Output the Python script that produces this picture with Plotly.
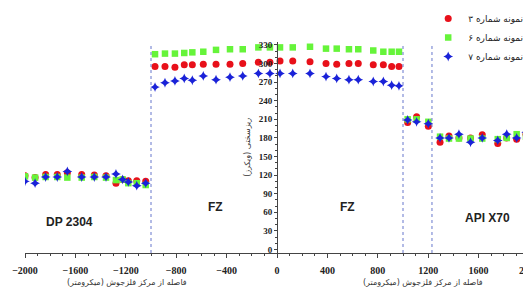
import plotly.graph_objects as go

# distance from weld-metal centre (micrometre)
x_pos = [-2000, -1920, -1836, -1744, -1664, -1550, -1450, -1357, -1278, -1225, -1180, -1113, -1042,
         -968, -889, -810, -736, -672, -585, -484, -373, -272, -148, -56,
         24, 125, 262, 389, 474, 571, 645, 764, 844, 910, 968,
         1037, 1108, 1201,
         1294, 1365, 1444, 1536, 1629, 1752, 1823, 1902, 1976]

sample3 = [119, 116, 121, 121, 124, 121, 120, 119, 107, 113, 111, 111, 110,
           295, 295, 294, 298, 298, 299, 299, 299, 300, 302, 302,
           304, 304, 303, 300, 299, 300, 300, 298, 298, 295, 295,
           205, 214, 199,
           173, 183, 180, 180, 185, 171, 180, 178, 186]

sample6 = [118, 116, 117, 117, 116, 116, 117, 116, 112, 113, 107, 107, 104,
           315, 316, 316, 317, 318, 319, 322, 323, 323, 326, 326,
           326, 326, 327, 324, 324, 323, 323, 321, 319, 319, 319,
           210, 210, 206,
           182, 179, 179, 179, 179, 178, 180, 186, 182]

sample7 = [110, 107, 117, 117, 126, 117, 117, 117, 122, 113, 109, 103, 107,
           262, 269, 272, 276, 273, 280, 274, 278, 280, 284, 284,
           284, 284, 284, 279, 276, 274, 274, 271, 271, 265, 264,
           209, 206, 203,
           180, 180, 186, 173, 180, 176, 186, 180, 189]

series_names = ["نمونه شماره ۳", "نمونه شماره ۶", "نمونه شماره ۷"]
zone_x = [-1643, -492, 556, 1667]
zone_y = [44, 68, 68, 51]
zone_labels = ["DP 2304", "FZ", "FZ", "API X70"]
boundaries = [-1000, 1000, 1230]
x_ticks = [-2000, -1600, -1200, -800, -400, 0, 400, 800, 1200, 1600, 2000]
y_ticks = list(range(0, 331, 30))
x_title = "فاصله از مرکز فلزجوش (میکرومتر)"
y_title = "ریزسختی (ویکرز)"

fig = go.Figure()
styles = [
    dict(color="#e8101a", symbol="circle", size=7),
    dict(color="#66f43a", symbol="square", size=6.5),
    dict(color="#1a22d8", symbol="star-diamond", size=7),
]
for name, ys, st in zip(series_names, [sample3, sample6, sample7], styles):
    fig.add_trace(go.Scatter(x=x_pos, y=ys, mode="markers", name=name,
                             marker=dict(color=st["color"], symbol=st["symbol"],
                                         size=st["size"], line=dict(width=0))))

for b in boundaries:
    fig.add_shape(type="line", xref="x", yref="y", x0=b, x1=b, y0=-5.6, y1=333,
                  line=dict(color="#6677cc", width=1, dash="dot"))

for zx, zy, zl in zip(zone_x, zone_y, zone_labels):
    fig.add_annotation(x=zx, y=zy, text="<b>" + zl + "</b>", showarrow=False,
                       font=dict(family="Liberation Sans", size=12, color="#222"))

for cx in [-1190, 1160]:
    fig.add_annotation(x=cx, y=-0.17, xref="x", yref="paper", text=x_title,
                       showarrow=False, font=dict(family="DejaVu Sans", size=8, color="#333"))

fig.add_annotation(x=-230, y=164, xref="x", yref="y", text=y_title, textangle=-90,
                   showarrow=False, font=dict(family="DejaVu Sans", size=8, color="#333"))

# the page body has an 8px default margin, so the figure is sized to fit the window
fig.update_layout(
    width=523, height=294,
    margin=dict(l=17, r=2, t=34, b=49, autoexpand=False),
    paper_bgcolor="white", plot_bgcolor="white",
    showlegend=True,
    legend=dict(x=0.80, xanchor="left", y=1.18, yanchor="top",
                font=dict(family="DejaVu Sans", size=9, color="#222"),
                bgcolor="rgba(0,0,0,0)", tracegroupgap=0, itemwidth=30),
    xaxis=dict(range=[-2000, 2000], tickvals=x_ticks, showgrid=False, zeroline=False,
               showline=True, linecolor="#444", linewidth=1, ticks="outside", ticklen=4,
               tickcolor="#444", automargin=False, ticklabeloverflow="allow",
               ticklabelstandoff=4,
               minor=dict(dtick=100, ticks="outside", ticklen=2, tickcolor="#444"),
               tickfont=dict(family="Liberation Serif", size=10, color="#222", weight="bold")),
    yaxis=dict(range=[-5.6, 334.7], tickvals=y_ticks, showgrid=False, zeroline=False,
               anchor="free", position=0.5, showline=True, linecolor="#444", linewidth=1,
               ticks="outside", ticklen=3, tickcolor="#444", automargin=False,
               ticklabeloverflow="allow",
               minor=dict(dtick=10, ticks="outside", ticklen=2, tickcolor="#444"),
               tickfont=dict(family="Liberation Serif", size=9, color="#222", weight="bold")),
)

fig.write_html("out.html")
